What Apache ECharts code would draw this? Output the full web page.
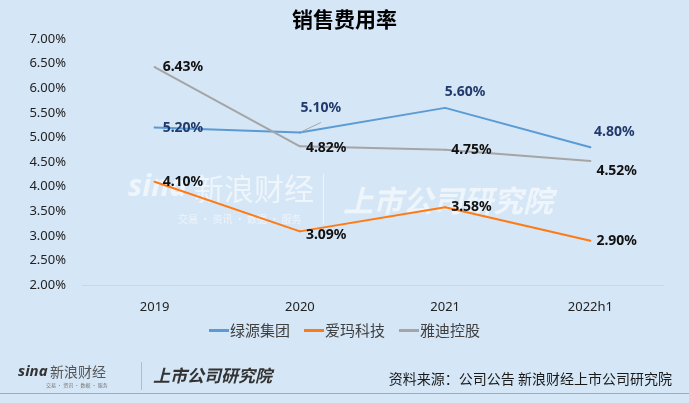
<!DOCTYPE html>
<html>
<head>
<meta charset="utf-8">
<script src="https://cdn.jsdelivr.net/npm/echarts@6/dist/echarts.min.js"></script>
<style>
  html, body { margin: 0; padding: 0; background: #d5e6f6; }
  #chart { width: 689px; height: 403px; }
</style>
</head>
<body>
<div id="chart"></div>
<script>
const categories = ["2019", "2020", "2021", "2022h1"];
const lvyuan = [5.20, 5.10, 5.60, 4.80];
const aima = [4.10, 3.09, 3.58, 2.90];
const yadi = [6.43, 4.82, 4.75, 4.52];
const seriesNames = ["绿源集团", "爱玛科技", "雅迪控股"];

const FONT = "'Noto Sans', 'Noto Sans CJK SC', sans-serif";
const CJK = "'Noto Sans CJK SC', sans-serif";

// label placement per point (style only)
const lvyuanLabels = [
  { position: "right", offset: [2, 0] },
  { position: "top", offset: [21, -11] },
  { position: "top", offset: [20, -3] },
  { position: "top", offset: [24, -2] },
];
const aimaLabels = [
  { position: "right", offset: [2, 0] },
  { position: "right", offset: [0, 4] },
  { position: "right" },
  { position: "right" },
];
const yadiLabels = [
  { position: "right", offset: [2, 0] },
  { position: "right", offset: [0, 2] },
  { position: "right" },
  { position: "right", offset: [0, 10] },
];

const withLabels = (values, labels) =>
  values.map((v, i) => ({ value: v, label: labels[i] }));

const labelBase = (color) => ({
  show: true,
  color: color,
  fontSize: 14,
  fontWeight: "bold",
  fontFamily: FONT,
  formatter: (p) => p.value.toFixed(2) + "%",
});

const lineSeries = (name, values, labels, color, labelColor) => ({
  name: name,
  type: "line",
  data: withLabels(values, labels),
  symbol: "circle",
  symbolSize: 2,
  showSymbol: true,
  lineStyle: { color: color, width: 2 },
  itemStyle: { color: color },
  label: labelBase(labelColor),
  emphasis: { disabled: true },
});

const chart = echarts.init(document.getElementById("chart"));

const blue = lineSeries(seriesNames[0], lvyuan, lvyuanLabels, "#5b9bd5", "#223a6b");
blue.data[1].labelLine = { show: true, lineStyle: { color: "#a6a6a6", width: 1 } };

chart.setOption({
  backgroundColor: "#d5e6f6",
  title: {
    text: "销售费用率",
    left: "center",
    top: 4,
    textStyle: { fontSize: 21, fontWeight: "bold", color: "#000", fontFamily: CJK },
  },
  grid: { left: 82, right: 26, top: 39, bottom: 118 },
  legend: {
    data: seriesNames,
    bottom: 60,
    left: "center",
    icon: "rect",
    itemWidth: 20,
    itemHeight: 3,
    itemGap: 14,
    textStyle: { fontSize: 15, color: "#404040", fontFamily: CJK, padding: [0, 0, 0, -4] },
  },
  xAxis: {
    type: "category",
    data: categories,
    axisLine: { lineStyle: { color: "#d9d4cc", width: 1 } },
    axisTick: { show: false },
    axisLabel: { fontSize: 13, color: "#222", fontFamily: FONT, margin: 16 },
  },
  yAxis: {
    type: "value",
    min: 2,
    max: 7,
    interval: 0.5,
    splitLine: { show: false },
    axisLine: { show: false },
    axisTick: { show: false },
    axisLabel: {
      fontSize: 13,
      color: "#222",
      fontFamily: FONT,
      margin: 16,
      formatter: (v) => v.toFixed(2) + "%",
    },
  },
  series: [
    blue,
    lineSeries(seriesNames[1], aima, aimaLabels, "#ff7a12", "#111"),
    lineSeries(seriesNames[2], yadi, yadiLabels, "#a5a5a5", "#111"),
  ],
  graphic: [
    // watermark
    {
      type: "group",
      left: 128,
      top: 172,
      silent: true,
      z: -1,
      children: [
        { type: "text", x: 0, y: 0, style: { text: "sina", fontSize: 30, fontStyle: "italic", fontWeight: "bold", fill: "rgba(255,255,255,0.6)", fontFamily: FONT } },
        { type: "text", x: 66, y: 2, style: { text: "新浪财经", fontSize: 30, fill: "rgba(255,255,255,0.6)", fontFamily: CJK } },
        { type: "text", x: 50, y: 42, style: { text: "交易 · 资讯 · 数据 · 服务", fontSize: 10, fill: "rgba(255,255,255,0.6)", fontFamily: CJK } },
        { type: "rect", shape: { x: 195, y: 2, width: 1, height: 50 }, style: { fill: "rgba(255,255,255,0.6)" } },
        { type: "text", x: 215, y: 14, style: { text: "上市公司研究院", fontSize: 30, fontWeight: "bold", fontStyle: "italic", fill: "rgba(255,255,255,0.6)", fontFamily: CJK } },
      ],
    },
    // footer logos
    {
      type: "group",
      left: 18,
      top: 362,
      silent: true,
      children: [
        { type: "text", x: 0, y: 2, style: { text: "sina", fontSize: 15, fontStyle: "italic", fontWeight: "bold", fill: "#333", fontFamily: FONT } },
        { type: "text", x: 32, y: 3, style: { text: "新浪财经", fontSize: 14, fill: "#555", fontFamily: CJK } },
        { type: "text", x: 28, y: 21, style: { text: "交易 · 资讯 · 数据 · 服务", fontSize: 5, fill: "#777", fontFamily: CJK } },
        { type: "rect", shape: { x: 123, y: 0, width: 1, height: 28 }, style: { fill: "#bbb" } },
        { type: "text", x: 135, y: 5, style: { text: "上市公司研究院", fontSize: 17, fontWeight: "bold", fontStyle: "italic", fill: "#333", fontFamily: CJK } },
      ],
    },
    {
      type: "text",
      right: 17,
      top: 372,
      silent: true,
      style: { text: "资料来源：公司公告 新浪财经上市公司研究院", fontSize: 14, fill: "#1a1a1a", fontFamily: CJK },
    },
    {
      type: "rect",
      left: 0,
      top: 393,
      silent: true,
      shape: { width: 689, height: 1 },
      style: { fill: "#a8a8a8" },
    },
  ],
});
</script>
</body>
</html>
